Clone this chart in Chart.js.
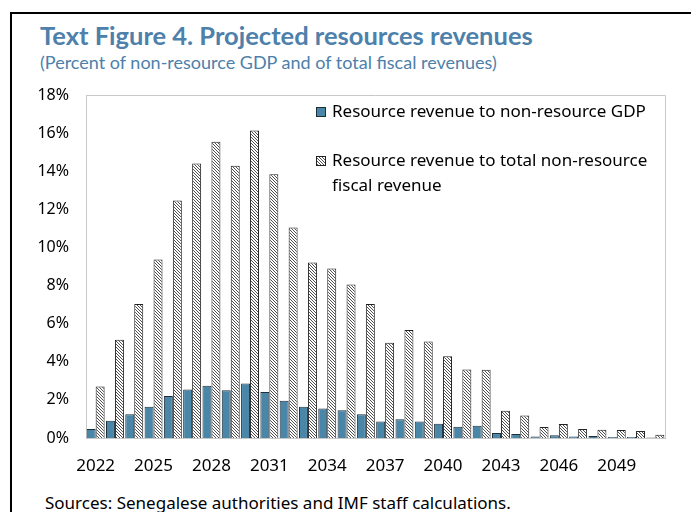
<!DOCTYPE html>
<html>
<head>
<meta charset="utf-8">
<script src="https://cdn.jsdelivr.net/npm/chart.js@4.4.1/dist/chart.umd.min.js"></script>
<style>
  body { margin: 0; width: 691px; height: 512px; overflow: hidden; background: #fff; position: relative; }
  #frame { position: absolute; left: 10px; top: 12px; width: 800px; height: 600px; border: 2px solid #000; }
  #title { position: absolute; left: 40px; top: 20px; font: bold 25.5px Lato, sans-serif; color: #4d80aa; }
  #subtitle { position: absolute; left: 40px; top: 51px; font: 18px Lato, sans-serif; color: #4d80aa; }
  #sources { position: absolute; left: 45px; top: 491px; font: 17px "Noto Sans", sans-serif; color: #000; }
  canvas { position: absolute; left: 0; top: 0; }
</style>
</head>
<body>
<div id="frame"></div>
<div id="title">Text Figure 4. Projected resources revenues</div>
<div id="subtitle">(Percent of non-resource GDP and of total fiscal revenues)</div>
<div id="sources">Sources: Senegalese authorities and IMF staff calculations.</div>
<canvas id="barChart" width="691" height="512"></canvas>
<script>
// years 2022 - 2051
var years = [];
for (var y = 2022; y <= 2051; y++) years.push(String(y));

var revToGdp = [0.47, 0.9, 1.24, 1.64, 2.2, 2.55, 2.74, 2.51, 2.86, 2.42,
  1.95, 1.64, 1.55, 1.45, 1.24, 0.87, 0.99, 0.87, 0.75, 0.59,
  0.64, 0.26, 0.21, 0.08, 0.14, 0.08, 0.1, 0.05, 0.05, 0.03];

var revToFiscal = [2.7, 5.16, 7.03, 9.37, 12.46, 14.41, 15.55, 14.29, 16.14, 13.84,
  11.05, 9.21, 8.9, 8.06, 7.03, 5.0, 5.67, 5.06, 4.29, 3.59,
  3.58, 1.43, 1.18, 0.58, 0.73, 0.47, 0.43, 0.42, 0.37, 0.17];

var legendLabels = [
  ['Resource revenue to non-resource GDP'],
  ['Resource revenue to total non-resource', 'fiscal revenue']
];

// hatch pattern
var pc = document.createElement('canvas');
pc.width = 3; pc.height = 3;
var p = pc.getContext('2d');
p.fillStyle = '#fff';
p.fillRect(0, 0, 3, 3);
p.fillStyle = '#4f4f4f';
p.fillRect(0, 0, 1, 1);
p.fillRect(1, 1, 1, 1);
p.fillRect(2, 2, 1, 1);
var ctx = document.getElementById('barChart').getContext('2d');
var hatch = ctx.createPattern(pc, 'repeat');

var framePlugin = {
  id: 'frame',
  afterDraw: function(chart) {
    var c = chart.ctx, a = chart.chartArea;
    c.save();
    c.strokeStyle = '#c8c8c8';
    c.lineWidth = 1;
    c.beginPath();
    c.moveTo(a.left, a.top + 0.5);
    c.lineTo(a.right + 0.5, a.top + 0.5);
    c.lineTo(a.right + 0.5, a.bottom);
    c.stroke();

    // legend
    var ds = chart.data.datasets;
    var sx = 316, ys = [112, 161];
    c.font = '17px "Noto Sans", sans-serif';
    c.textBaseline = 'middle';
    for (var i = 0; i < ds.length; i++) {
      c.fillStyle = ds[i].backgroundColor;
      c.fillRect(sx, ys[i] - 5, 10, 10);
      c.strokeStyle = ds[i].borderColor;
      c.strokeRect(sx + 0.5, ys[i] - 4.5, 9, 9);
      c.fillStyle = '#000';
      for (var j = 0; j < legendLabels[i].length; j++) {
        c.fillText(legendLabels[i][j], sx + 16, ys[i] + j * 25);
      }
    }
    c.restore();
  }
};

var barChart = new Chart(ctx, {
  type: 'bar',
  data: {
    labels: years,
    datasets: [
      {
        label: legendLabels[0].join(' '),
        data: revToGdp,
        backgroundColor: '#4a86a8',
        borderColor: '#1e2f3a',
        borderWidth: 1
      },
      {
        label: legendLabels[1].join(' '),
        data: revToFiscal,
        backgroundColor: hatch,
        borderColor: '#222',
        borderWidth: 1
      }
    ]
  },
  options: {
    responsive: false,
    animation: false,
    devicePixelRatio: 1,
    layout: { padding: { top: 95, right: 26, left: 0, bottom: 0 } },
    datasets: { bar: { categoryPercentage: 0.93, barPercentage: 1.0 } },
    plugins: {
      legend: { display: false },
      tooltip: { enabled: false }
    },
    scales: {
      x: {
        grid: { display: false, drawTicks: false },
        border: { color: '#c8c8c8' },
        ticks: {
          autoSkip: false,
          maxRotation: 0,
          padding: 18,
          color: '#000',
          font: { family: 'Noto Sans', size: 17 },
          callback: function(v, i) { return i % 3 === 0 ? years[i] : ''; }
        },
        afterFit: function(s) { s.height = 74; }
      },
      y: {
        min: 0,
        max: 18,
        grid: { display: false, drawTicks: false },
        border: { color: '#c8c8c8' },
        ticks: {
          stepSize: 2,
          padding: 17,
          color: '#000',
          font: { family: 'Noto Sans', size: 16 },
          callback: function(v) { return v + '%'; }
        },
        afterFit: function(s) { s.width = 86; }
      }
    }
  },
  plugins: [framePlugin]
});
</script>
</body>
</html>
